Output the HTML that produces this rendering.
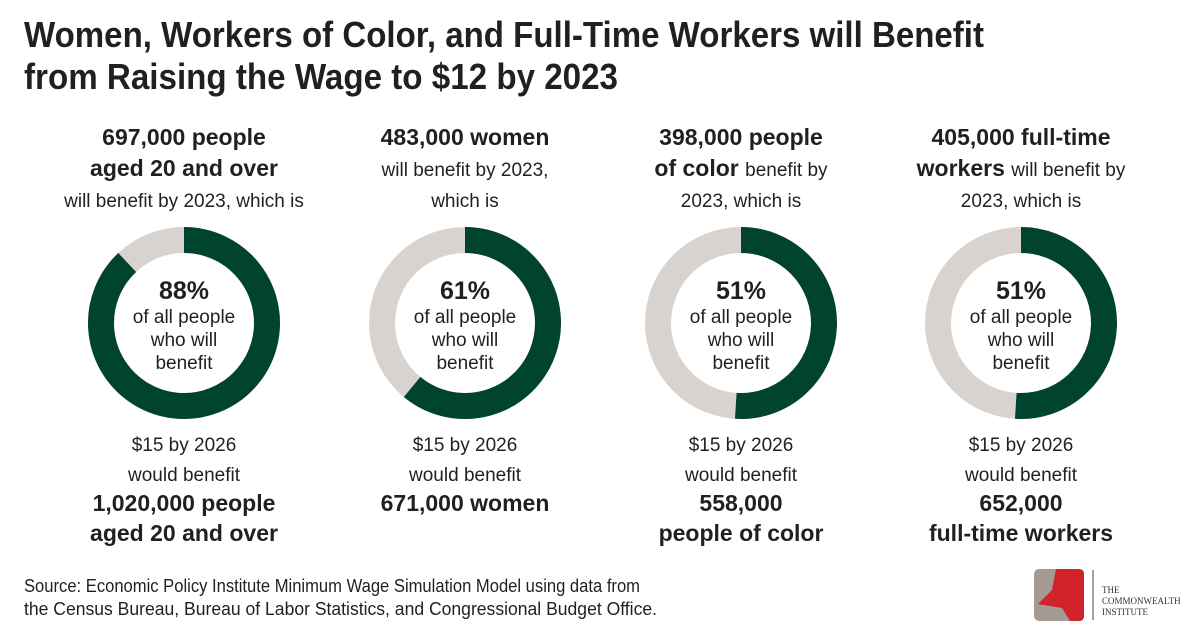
<!DOCTYPE html>
<html><head><meta charset="utf-8"><style>
body{margin:0;background:#fff}
svg{display:block;font-family:"Liberation Sans",sans-serif}
</style></head><body>
<svg width="1200" height="628" viewBox="0 0 1200 628">
<g font-weight="bold" font-size="36" fill="#231f20">
<text x="24" y="47" textLength="960" lengthAdjust="spacingAndGlyphs">Women, Workers of Color, and Full-Time Workers will Benefit</text>
<text x="24" y="89" textLength="594" lengthAdjust="spacingAndGlyphs">from Raising the Wage to $12 by 2023</text>
</g>
<g id="cols"></g>
<g font-size="18" fill="#231f20">
<text x="24" y="592" textLength="616" lengthAdjust="spacingAndGlyphs">Source: Economic Policy Institute Minimum Wage Simulation Model using data from</text>
<text x="24" y="615" textLength="633" lengthAdjust="spacingAndGlyphs">the Census Bureau, Bureau of Labor Statistics, and Congressional Budget Office.</text>
</g>
<g>
<rect x="1034" y="569" width="50" height="52" rx="5" fill="#a49a93"/>
<path d="M1056 569 L1079 569 Q1084 569 1084 574 L1084 616 Q1084 621 1079 621 L1070 621 L1062 608 L1038 604 L1052 590 Z" fill="#d2232a"/>
<line x1="1093" y1="570" x2="1093" y2="620" stroke="#444" stroke-width="1"/>
<text x="1102" y="593" font-family="Liberation Serif,serif" font-size="9" fill="#333">THE</text>
<text x="1102" y="604" font-family="Liberation Serif,serif" font-size="9" fill="#333">COMMONWEALTH</text>
<text x="1102" y="615" font-family="Liberation Serif,serif" font-size="9" fill="#333">INSTITUTE</text>
</g>
</svg>
<script>
const pcts=[88,61,51,51];
const centersX=[184,465,741,1021];
const topLines=[
 [["697,000 people",1],["aged 20 and over",1],["will benefit by 2023, which is",0]],
 [["483,000 women",1],["will benefit by 2023,",0],["which is",0]],
 [["398,000 people",1],["of color|benefit by",2],["2023, which is",0]],
 [["405,000 full-time",1],["workers|will benefit by",2],["2023, which is",0]]];
const bottomLines=[
 [["$15 by 2026",0],["would benefit",0],["1,020,000 people",1],["aged 20 and over",1]],
 [["$15 by 2026",0],["would benefit",0],["671,000 women",1]],
 [["$15 by 2026",0],["would benefit",0],["558,000",1],["people of color",1]],
 [["$15 by 2026",0],["would benefit",0],["652,000",1],["full-time workers",1]]];
const NS="http://www.w3.org/2000/svg";
const g=document.getElementById('cols');
const cy=323,R=83,W=26;
function txt(parent,x,y,str,kind){
 const t=document.createElementNS(NS,'text');
 t.setAttribute('x',x);t.setAttribute('y',y);t.setAttribute('text-anchor','middle');
 t.setAttribute('fill','#231f20');
 if(kind==2){const [b,r]=str.split('|');
  const s1=document.createElementNS(NS,'tspan');s1.setAttribute('font-weight','bold');s1.setAttribute('font-size','23');s1.textContent=b+' ';
  const s2=document.createElementNS(NS,'tspan');s2.setAttribute('font-size','19');s2.textContent=r;
  t.appendChild(s1);t.appendChild(s2);}
 else{t.setAttribute('font-size',kind?23:19);if(kind)t.setAttribute('font-weight','bold');t.textContent=str;}
 parent.appendChild(t);return t;}
pcts.forEach((p,i)=>{
 const cx=centersX[i];
 const col=document.createElementNS(NS,'g');
 
 
 g.appendChild(col);
 topLines[i].forEach((l,j)=>txt(col,cx,145+j*31,l[0],l[1]));
 const bg=document.createElementNS(NS,'circle');
 bg.setAttribute('cx',cx);bg.setAttribute('cy',cy);bg.setAttribute('r',R);
 bg.setAttribute('fill','none');bg.setAttribute('stroke','#d9d3d0');bg.setAttribute('stroke-width',W);
 
 
 col.appendChild(bg);
 const a=p/100*2*Math.PI;
 const x2=cx+R*Math.sin(a),y2=cy-R*Math.cos(a);
 const arc=document.createElementNS(NS,'path');
 arc.setAttribute('d',`M${cx} ${cy-R} A${R} ${R} 0 ${p>50?1:0} 1 ${x2} ${y2}`);
 arc.setAttribute('fill','none');arc.setAttribute('stroke','#00432f');arc.setAttribute('stroke-width',W);
 
 
 col.appendChild(arc);
 const pt=txt(col,cx,299,p+'%',1);pt.setAttribute('font-size','25');
 txt(col,cx,323,'of all people',0);
 txt(col,cx,346,'who will',0);
 txt(col,cx,369,'benefit',0);
 bottomLines[i].forEach((l,j)=>txt(col,cx,451+j*30,l[0],l[1]));
});
</script>
</body></html>
